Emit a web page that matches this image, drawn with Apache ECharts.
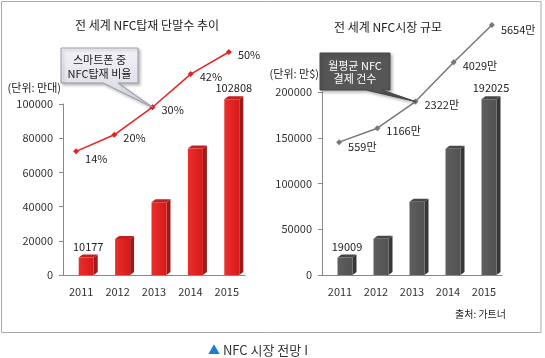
<!DOCTYPE html>
<html><head><meta charset="utf-8">
<script src="https://cdn.jsdelivr.net/npm/echarts@6/dist/echarts.min.js"></script>
<style>html,body{margin:0;padding:0;background:#fff}#c{width:545px;height:358px}</style>
</head><body><div id="c"></div>
<script>
// ---- data ----
const years = ['2011', '2012', '2013', '2014', '2015'];
const deviceUnits = [10177, 21000, 42500, 74000, 102808];      // 만대
const nfcShare = [14, 20, 30, 42, 50];                         // %
const marketSize = [19009, 39500, 80000, 138000, 192025];      // 만$
const monthlyPayments = [559, 1166, 2322, 4029, 5654];         // 만 건

const FONT = '"Noto Sans CJK KR", "Noto Sans", sans-serif';
const chart = echarts.init(document.getElementById('c'), null, {renderer: 'canvas'});

function bar3d(front, side, topc, labelColor) {
  return function (params, api) {
    const i = api.value(0), v = api.value(1);
    const p = api.coord([i, v]);
    const b = api.coord([i, 0]);
    const w = 15, dx = 4, dy = 3, off = 5;
    const x1 = p[0] + off - w / 2, x2 = x1 + w;
    const children = [
      {type: 'polygon', shape: {points: [[x2, p[1]], [x2 + dx, p[1] - dy], [x2 + dx, b[1] - dy], [x2, b[1]]]}, style: {fill: side}},
      {type: 'polygon', shape: {points: [[x1, p[1]], [x1 + dx, p[1] - dy], [x2 + dx, p[1] - dy], [x2, p[1]]]}, style: {fill: topc}},
      {type: 'rect', shape: {x: x1, y: p[1], width: w, height: b[1] - p[1]}, style: {fill: front}}
    ];
    if (params.dataIndex === 0 || params.dataIndex === years.length - 1) {
      children.push({type: 'text', style: {text: String(v), x: (x1 + x2 + dx) / 2, y: p[1] - 11,
        textAlign: 'center', textVerticalAlign: 'middle', align: 'center', verticalAlign: 'middle',
        font: '11px ' + FONT, fill: labelColor}});
    }
    return {type: 'group', children};
  };
}

const axisLabelStyle = {color: '#333', fontSize: 11, fontFamily: FONT};
const plain = v => String(v);

const option = {
  animation: false,
  backgroundColor: '#fff',
  grid: [
    {left: 63, top: 104, width: 182, height: 171},
    {left: 57, top: 52, width: 191, height: 138},
    {left: 322, top: 92, width: 180, height: 183},
    {left: 320, top: 17, width: 191, height: 138}
  ],
  xAxis: [
    {gridIndex: 0, type: 'category', data: years, axisLine: {lineStyle: {color: '#888'}},
      axisTick: {show: false}, axisLabel: Object.assign({margin: 11}, axisLabelStyle)},
    {gridIndex: 1, type: 'category', data: years, show: false},
    {gridIndex: 2, type: 'category', data: years, axisLine: {lineStyle: {color: '#888'}},
      axisTick: {show: false}, axisLabel: Object.assign({margin: 11}, axisLabelStyle)},
    {gridIndex: 3, type: 'category', data: years, show: false}
  ],
  yAxis: [
    {gridIndex: 0, type: 'value', min: 0, max: 100000, interval: 20000,
      axisLine: {show: true, lineStyle: {color: '#888'}}, axisTick: {show: true, length: 4, lineStyle: {color: '#888'}},
      splitLine: {show: false}, axisLabel: Object.assign({margin: 10, formatter: plain}, axisLabelStyle)},
    {gridIndex: 1, type: 'value', min: 0, max: 50, show: false, splitLine: {show: false}},
    {gridIndex: 2, type: 'value', min: 0, max: 200000, interval: 50000,
      axisLine: {show: true, lineStyle: {color: '#888'}}, axisTick: {show: true, length: 4, lineStyle: {color: '#888'}},
      splitLine: {show: false}, axisLabel: Object.assign({margin: 10, formatter: plain}, axisLabelStyle)},
    {gridIndex: 3, type: 'value', min: 0, max: 6000, show: false, splitLine: {show: false}}
  ],
  series: [
    {type: 'custom', xAxisIndex: 0, yAxisIndex: 0, clip: false, z: 2,
      renderItem: bar3d(new echarts.graphic.LinearGradient(0, 0, 1, 0, [{offset: 0, color: '#e8302a'}, {offset: 1, color: '#d8181b'}]), '#9c1a1a', '#c21f1f', '#222'),
      data: deviceUnits.map((v, i) => [i, v])},
    {type: 'line', xAxisIndex: 1, yAxisIndex: 1, clip: false, z: 5,
      data: nfcShare.map((v, i) => i === 0 ? {value: v, label: {offset: [0, 7]}} : v),
      symbol: 'diamond', symbolSize: 6,
      lineStyle: {color: '#e5231f', width: 1.5}, itemStyle: {color: '#e5231f'},
      label: {show: true, position: 'right', distance: 6, offset: [0, 3], formatter: '{c}%',
        color: '#222', fontSize: 11, fontFamily: FONT}},
    {type: 'custom', xAxisIndex: 2, yAxisIndex: 2, clip: false, z: 2,
      renderItem: bar3d(new echarts.graphic.LinearGradient(0, 0, 1, 0, [{offset: 0, color: '#5e5e5e'}, {offset: 1, color: '#525252'}]), '#363636', '#474747', '#222'),
      data: marketSize.map((v, i) => [i, v])},
    {type: 'line', xAxisIndex: 3, yAxisIndex: 3, clip: false, z: 5,
      data: monthlyPayments.map((v, i) => i === 0 || i === 4 ? {value: v, label: {offset: [0, 5]}} : v),
      symbol: 'diamond', symbolSize: 6,
      lineStyle: {color: '#777', width: 1.5}, itemStyle: {color: '#777'},
      label: {show: true, position: 'right', distance: 6, offset: [0, 3], formatter: '{c}만',
        color: '#222', fontSize: 11, fontFamily: FONT}}
  ]
};
chart.setOption(option);

// callouts pointing to the 2013 points
const tipL = chart.convertToPixel({seriesIndex: 1}, [2, nfcShare[2]]);
const tipR = chart.convertToPixel({seriesIndex: 3}, [2, monthlyPayments[2]]);

function txt(text, x, y, size, color, align) {
  return {type: 'text', z: 10, style: {text, x, y, font: size + 'px ' + FONT, fill: color,
    textAlign: align || 'center', textVerticalAlign: 'middle', align: align || 'center', verticalAlign: 'middle'}};
}

chart.setOption({
  graphic: [
    {type: 'rect', z: 0, shape: {x: 1.5, y: 1.5, width: 539.5, height: 331}, style: {fill: 'none', stroke: '#aaa', lineWidth: 1}},
    txt('전 세계 NFC탑재 단말수 추이', 147, 25, 12, '#222'),
    txt('전 세계 NFC시장 규모', 388, 27, 12, '#222'),
    txt('(단위: 만대)', 61, 88, 11, '#222', 'right'),
    txt('(단위: 만$)', 319, 74, 11, '#222', 'right'),
    txt('출처: 가트너', 506, 314, 10, '#222', 'right'),
    {type: 'polygon', z: 8,
      shape: {points: [[61, 48], [138, 48], [138, 83], [118, 83], tipL, [103, 83], [61, 83]]},
      style: {fill: new echarts.graphic.LinearGradient(0, 0, 0, 1, [{offset: 0, color: '#f3f3f8'}, {offset: 1, color: '#d6d6e0'}]),
        stroke: '#9a9aa6', lineWidth: 1, shadowBlur: 3, shadowOffsetX: 2, shadowOffsetY: 2, shadowColor: 'rgba(0,0,0,0.25)'}},
    txt('스마트폰 중', 99.5, 60, 11, '#222'),
    txt('NFC탑재 비율', 99.5, 73.5, 11, '#222'),
    {type: 'polygon', z: 8,
      shape: {points: [[320, 53], [390, 53], [390, 90], [382, 90], tipR, [366, 90], [320, 90]]},
      style: {fill: '#565656', stroke: '#444', lineWidth: 1, shadowBlur: 3, shadowOffsetX: 2, shadowOffsetY: 2, shadowColor: 'rgba(0,0,0,0.25)'}},
    txt('월평균 NFC', 355, 65.5, 11, '#fff'),
    txt('결제 건수', 355, 78.5, 11, '#fff'),
    {type: 'text', z: 10, style: {text: '{a|▲} NFC 시장 전망 I', x: 258, y: 350, font: '13px ' + FONT, fill: '#333',
      textAlign: 'center', textVerticalAlign: 'middle', align: 'center', verticalAlign: 'middle',
      rich: {a: {fill: '#1b7fd1', color: '#1b7fd1', fontSize: 12, fontFamily: FONT}}}}
  ]
});
</script></body></html>
